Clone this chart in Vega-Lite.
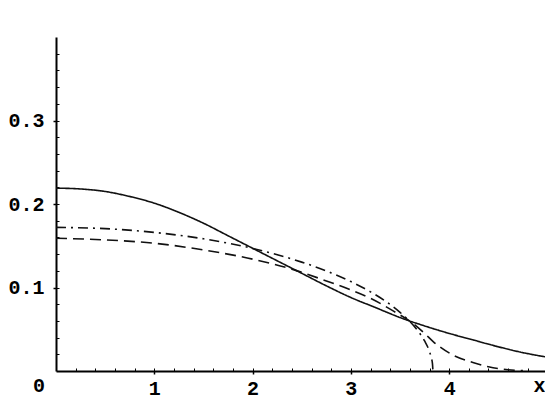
{
  "$schema": "https://vega.github.io/schema/vega-lite/v6.json",
  "width": 489,
  "height": 334,
  "autosize": "none",
  "padding": {"left": 56, "top": 37, "right": 0, "bottom": 38},
  "background": "white",
  "config": {
    "view": {"stroke": null},
    "axis": {
      "domainColor": "#000",
      "domainWidth": 2,
      "tickColor": "#000",
      "tickWidth": 1.5,
      "labelFont": "Liberation Mono",
      "labelFontWeight": "bold",
      "labelFontSize": 20,
      "labelColor": "#000",
      "grid": false
    }
  },
  "datasets": {
    "curves": [
      {"curve": "solid", "x": 0, "y": 0.219},
      {"curve": "solid", "x": 0.25, "y": 0.218},
      {"curve": "solid", "x": 0.5, "y": 0.215},
      {"curve": "solid", "x": 0.75, "y": 0.209},
      {"curve": "solid", "x": 1.0, "y": 0.201},
      {"curve": "solid", "x": 1.25, "y": 0.19},
      {"curve": "solid", "x": 1.5, "y": 0.177},
      {"curve": "solid", "x": 1.75, "y": 0.162},
      {"curve": "solid", "x": 2.0, "y": 0.147},
      {"curve": "solid", "x": 2.25, "y": 0.132},
      {"curve": "solid", "x": 2.5, "y": 0.117},
      {"curve": "solid", "x": 2.75, "y": 0.102},
      {"curve": "solid", "x": 3.0, "y": 0.088},
      {"curve": "solid", "x": 3.25, "y": 0.076},
      {"curve": "solid", "x": 3.5, "y": 0.064},
      {"curve": "solid", "x": 3.75, "y": 0.054},
      {"curve": "solid", "x": 4.0, "y": 0.045},
      {"curve": "solid", "x": 4.25, "y": 0.037},
      {"curve": "solid", "x": 4.5, "y": 0.029},
      {"curve": "solid", "x": 4.75, "y": 0.022},
      {"curve": "solid", "x": 4.975, "y": 0.017},
      {"curve": "dashdot", "x": 0, "y": 0.172},
      {"curve": "dashdot", "x": 0.5, "y": 0.1705},
      {"curve": "dashdot", "x": 1.0, "y": 0.166},
      {"curve": "dashdot", "x": 1.5, "y": 0.1583},
      {"curve": "dashdot", "x": 2.0, "y": 0.1468},
      {"curve": "dashdot", "x": 2.5, "y": 0.1304},
      {"curve": "dashdot", "x": 2.8, "y": 0.1175},
      {"curve": "dashdot", "x": 3.0, "y": 0.1071},
      {"curve": "dashdot", "x": 3.2, "y": 0.0948},
      {"curve": "dashdot", "x": 3.4, "y": 0.0796},
      {"curve": "dashdot", "x": 3.5, "y": 0.0703},
      {"curve": "dashdot", "x": 3.6, "y": 0.0593},
      {"curve": "dashdot", "x": 3.7, "y": 0.0452},
      {"curve": "dashdot", "x": 3.75, "y": 0.036},
      {"curve": "dashdot", "x": 3.8, "y": 0.0232},
      {"curve": "dashdot", "x": 3.82, "y": 0.0152},
      {"curve": "dashdot", "x": 3.83, "y": 0.0088},
      {"curve": "dashdot", "x": 3.835, "y": 0},
      {"curve": "dashed", "x": 0, "y": 0.159},
      {"curve": "dashed", "x": 0.5, "y": 0.157},
      {"curve": "dashed", "x": 1.0, "y": 0.153},
      {"curve": "dashed", "x": 1.5, "y": 0.145},
      {"curve": "dashed", "x": 2.0, "y": 0.134},
      {"curve": "dashed", "x": 2.4, "y": 0.122},
      {"curve": "dashed", "x": 2.7, "y": 0.11},
      {"curve": "dashed", "x": 3.0, "y": 0.097},
      {"curve": "dashed", "x": 3.2, "y": 0.087},
      {"curve": "dashed", "x": 3.43, "y": 0.072},
      {"curve": "dashed", "x": 3.62, "y": 0.058},
      {"curve": "dashed", "x": 3.75, "y": 0.045},
      {"curve": "dashed", "x": 3.84, "y": 0.035},
      {"curve": "dashed", "x": 4.04, "y": 0.019},
      {"curve": "dashed", "x": 4.25, "y": 0.01},
      {"curve": "dashed", "x": 4.4, "y": 0.005},
      {"curve": "dashed", "x": 4.6, "y": 0.0015},
      {"curve": "dashed", "x": 4.75, "y": 0.0005}
    ],
    "origin": [{"x": 0, "y": 0, "label": "0"}]
  },
  "resolve": {"axis": {"x": "independent", "y": "independent"}},
  "layer": [
    {
      "data": {"name": "curves"},
      "mark": {"type": "line", "interpolate": "monotone", "color": "#111", "strokeWidth": 1.6, "clip": true},
      "encoding": {
        "x": {
          "field": "x",
          "type": "quantitative",
          "scale": {"domain": [0, 4.975], "nice": false, "zero": false},
          "axis": {
            "orient": "bottom",
            "title": "x",
            "titleFont": "Liberation Mono",
            "titleFontWeight": "bold",
            "titleFontSize": 20,
            "titleColor": "#000",
            "titleAnchor": "end",
            "titleAlign": "right",
            "titleBaseline": "top",
            "titleY": 4,
            "titleX": 489,
            "values": [1, 2, 3, 4],
            "format": "d",
            "tickSize": 3,
            "labelPadding": 4,
            "labelBaseline": "top",
            "labelFlush": false,
            "labelOverlap": false
          }
        },
        "y": {
          "field": "y",
          "type": "quantitative",
          "scale": {"domain": [0, 0.4], "nice": false},
          "axis": {
            "orient": "left",
            "title": null,
            "values": [0.1, 0.2, 0.3],
            "format": ".1f",
            "tickSize": 3,
            "labelPadding": 9,
            "labelFlush": false,
            "labelOverlap": false
          }
        },
        "strokeDash": {
          "field": "curve",
          "type": "nominal",
          "scale": {"domain": ["solid", "dashdot", "dashed"], "range": [[1, 0], [10, 5, 2, 5], [11, 6]]},
          "legend": null
        }
      }
    },
    {
      "data": {"name": "origin"},
      "mark": {"type": "text", "font": "Liberation Mono", "fontWeight": "bold", "fontSize": 20, "color": "#000", "align": "center", "baseline": "top", "dx": -17, "dy": 5},
      "encoding": {
        "x": {
          "field": "x",
          "type": "quantitative",
          "axis": {
            "orient": "bottom",
            "title": null,
            "labels": false,
            "domain": false,
            "values": [0.2, 0.4, 0.6, 0.8, 1, 1.2, 1.4, 1.6, 1.8, 2, 2.2, 2.4, 2.6, 2.8, 3, 3.2, 3.4, 3.6, 3.8, 4, 4.2, 4.4, 4.6, 4.8],
            "tickSize": -3,
            "tickWidth": 1
          }
        },
        "y": {
          "field": "y",
          "type": "quantitative",
          "axis": {
            "orient": "left",
            "title": null,
            "labels": false,
            "domain": false,
            "values": [0.02, 0.04, 0.06, 0.08, 0.1, 0.12, 0.14, 0.16, 0.18, 0.2, 0.22, 0.24, 0.26, 0.28, 0.3, 0.32, 0.34, 0.36, 0.38],
            "tickSize": -3,
            "tickWidth": 1
          }
        },
        "text": {"field": "label"}
      }
    }
  ]
}
